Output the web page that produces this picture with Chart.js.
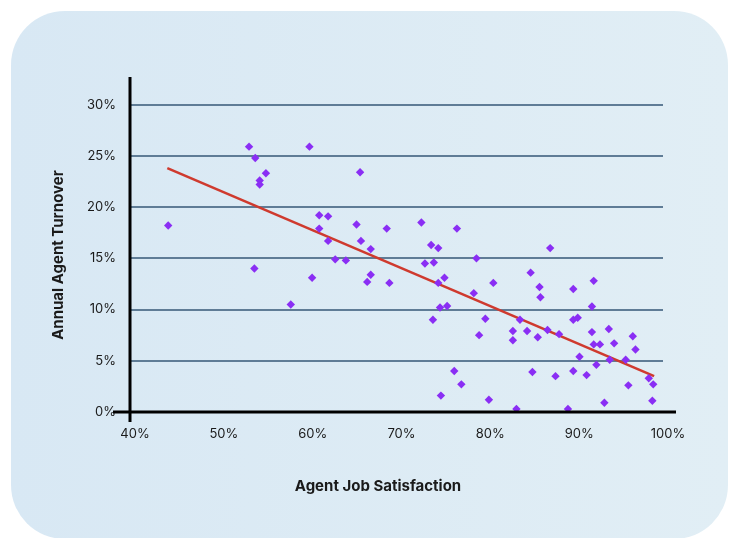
<!DOCTYPE html>
<html lang="en">
<head>
    <meta charset="UTF-8">
    <title>Agent Job Satisfaction vs Annual Agent Turnover</title>
    <script src="https://cdn.jsdelivr.net/npm/chart.js"></script>
    <style>
        html, body { margin: 0; padding: 0; background: #fff; }
        body { width: 733px; height: 538px; position: relative; overflow: hidden; }
        .card {
            position: absolute; left: 11px; top: 11px; width: 717px; height: 528px;
            border-radius: 54px;
            background: linear-gradient(90deg, #d8e8f4, #e1eef5);
        }
        #chart { position: absolute; left: 0; top: 0; }
    </style>
</head>
<body>
    <div class="card"></div>
    <canvas id="chart" width="733" height="538"></canvas>
    <script>
        // data (percent)
        const satisfaction = [53.4, 54.1, 55.3, 54.6, 54.6, 44.3, 54.0, 58.1,
            60.2, 65.9, 61.3, 62.3, 61.3, 65.5, 68.9, 72.8, 62.3, 66.0, 67.1, 73.9, 74.7, 63.1, 64.3, 73.2, 74.2,
            60.5, 67.1, 66.7, 69.2, 74.7, 74.9, 74.1, 75.0,
            76.8, 79.0, 87.3, 75.4, 85.1, 80.9, 78.7, 86.1, 86.2, 75.7, 80.0, 83.9, 79.3, 83.1, 83.1, 84.7,
            85.9, 87.0, 88.3, 76.5, 77.3, 85.3, 87.9, 80.4, 83.5,
            92.2, 89.9, 92.0, 89.9, 90.4, 92.0, 93.9, 92.2, 92.9, 94.5, 96.6, 96.9, 90.6, 94.0, 95.8, 92.5,
            89.9, 91.4, 98.4, 98.9, 96.1, 98.8, 93.4, 89.3];
        const turnover = [25.9, 24.8, 23.3, 22.6, 22.2, 18.2, 14.0, 10.5,
            25.9, 23.4, 19.2, 19.1, 17.9, 18.3, 17.9, 18.5, 16.7, 16.7, 15.9, 16.3, 16.0, 14.9, 14.8, 14.5, 14.6,
            13.1, 13.4, 12.7, 12.6, 12.6, 10.2, 9.0, 1.6,
            17.9, 15.0, 16.0, 13.1, 13.6, 12.6, 11.6, 12.2, 11.2, 10.35, 9.1, 9.0, 7.5, 7.9, 7.0, 7.9,
            7.3, 8.0, 7.6, 4.0, 2.7, 3.9, 3.5, 1.2, 0.3,
            12.8, 12.0, 10.3, 9.0, 9.2, 7.8, 8.1, 6.6, 6.6, 6.7, 7.4, 6.1, 5.4, 5.1, 5.1, 4.6,
            4.0, 3.6, 3.3, 2.7, 2.6, 1.1, 0.9, 0.3];
        const trendX = [44.2, 99.0];
        const trendY = [23.8, 3.5];
        const xTicks = [40, 50, 60, 70, 80, 90, 100];
        const yTicks = [0, 5, 10, 15, 20, 25, 30];
        const xTitle = 'Agent Job Satisfaction';
        const yTitle = 'Annual Agent Turnover';

        const FONT = 'Inter, "Noto Sans", sans-serif';

        // black axis lines (they overshoot a bit past the origin) + axis titles
        const axesPlugin = {
            id: 'axes',
            afterDatasetsDraw(chart) {
                const { ctx, chartArea: a } = chart;
                ctx.save();
                ctx.strokeStyle = '#000';
                ctx.lineWidth = 3;
                ctx.beginPath();
                ctx.moveTo(a.left - 17, a.bottom);
                ctx.lineTo(a.right + 13, a.bottom);
                ctx.moveTo(a.left, a.top);
                ctx.lineTo(a.left, a.bottom + 10);
                ctx.stroke();
                ctx.restore();
            },
            afterDraw(chart) {
                const { ctx, chartArea: a } = chart;
                ctx.save();
                ctx.fillStyle = '#1a1a1a';
                ctx.font = 'bold 15px ' + FONT;
                ctx.textAlign = 'center';
                ctx.textBaseline = 'middle';
                ctx.fillText(xTitle, a.left + 248, a.bottom + 74);
                ctx.translate(a.left - 72, a.top + 178);
                ctx.rotate(-Math.PI / 2);
                ctx.fillText(yTitle, 0, 0);
                ctx.restore();
            }
        };

        new Chart(document.getElementById('chart'), {
            type: 'scatter',
            data: {
                datasets: [{
                    label: 'Agents',
                    data: satisfaction.map((x, i) => ({ x: x, y: turnover[i] })),
                    pointStyle: 'rectRot',
                    pointRadius: 4.2,
                    pointBorderWidth: 0,
                    backgroundColor: '#8a2ef4',
                    borderColor: '#8a2ef4',
                    order: 0
                }, {
                    type: 'line',
                    label: 'Trend',
                    data: trendX.map((x, i) => ({ x: x, y: trendY[i] })),
                    borderColor: '#cf3a2e',
                    borderWidth: 2.6,
                    pointRadius: 0,
                    fill: false,
                    order: 1
                }]
            },
            options: {
                responsive: false,
                animation: false,
                devicePixelRatio: 1,
                layout: { padding: { top: 77, right: 70, left: 0, bottom: 0 } },
                plugins: {
                    legend: { display: false },
                    tooltip: { enabled: false }
                },
                scales: {
                    x: {
                        type: 'linear',
                        min: 40,
                        max: 100,
                        afterBuildTicks: axis => { axis.ticks = xTicks.map(v => ({ value: v })); },
                        afterFit: s => { s.height = 126; },
                        grid: { display: false, drawTicks: false },
                        border: { display: false },
                        ticks: {
                            padding: 14,
                            labelOffset: 5,
                            maxRotation: 0,
                            color: '#1a1a1a',
                            font: { family: FONT, size: 13 },
                            callback: v => v + '%'
                        }
                    },
                    y: {
                        min: 0,
                        max: 32.7,
                        afterBuildTicks: axis => { axis.ticks = yTicks.map(v => ({ value: v })); },
                        afterFit: s => { s.width = 130; },
                        grid: { color: '#5f7c96', lineWidth: 2, drawTicks: false },
                        border: { display: false },
                        ticks: {
                            padding: 14,
                            color: '#1a1a1a',
                            font: { family: FONT, size: 13 },
                            callback: v => v + '%'
                        }
                    }
                }
            },
            plugins: [axesPlugin]
        });
    </script>
</body>
</html>
